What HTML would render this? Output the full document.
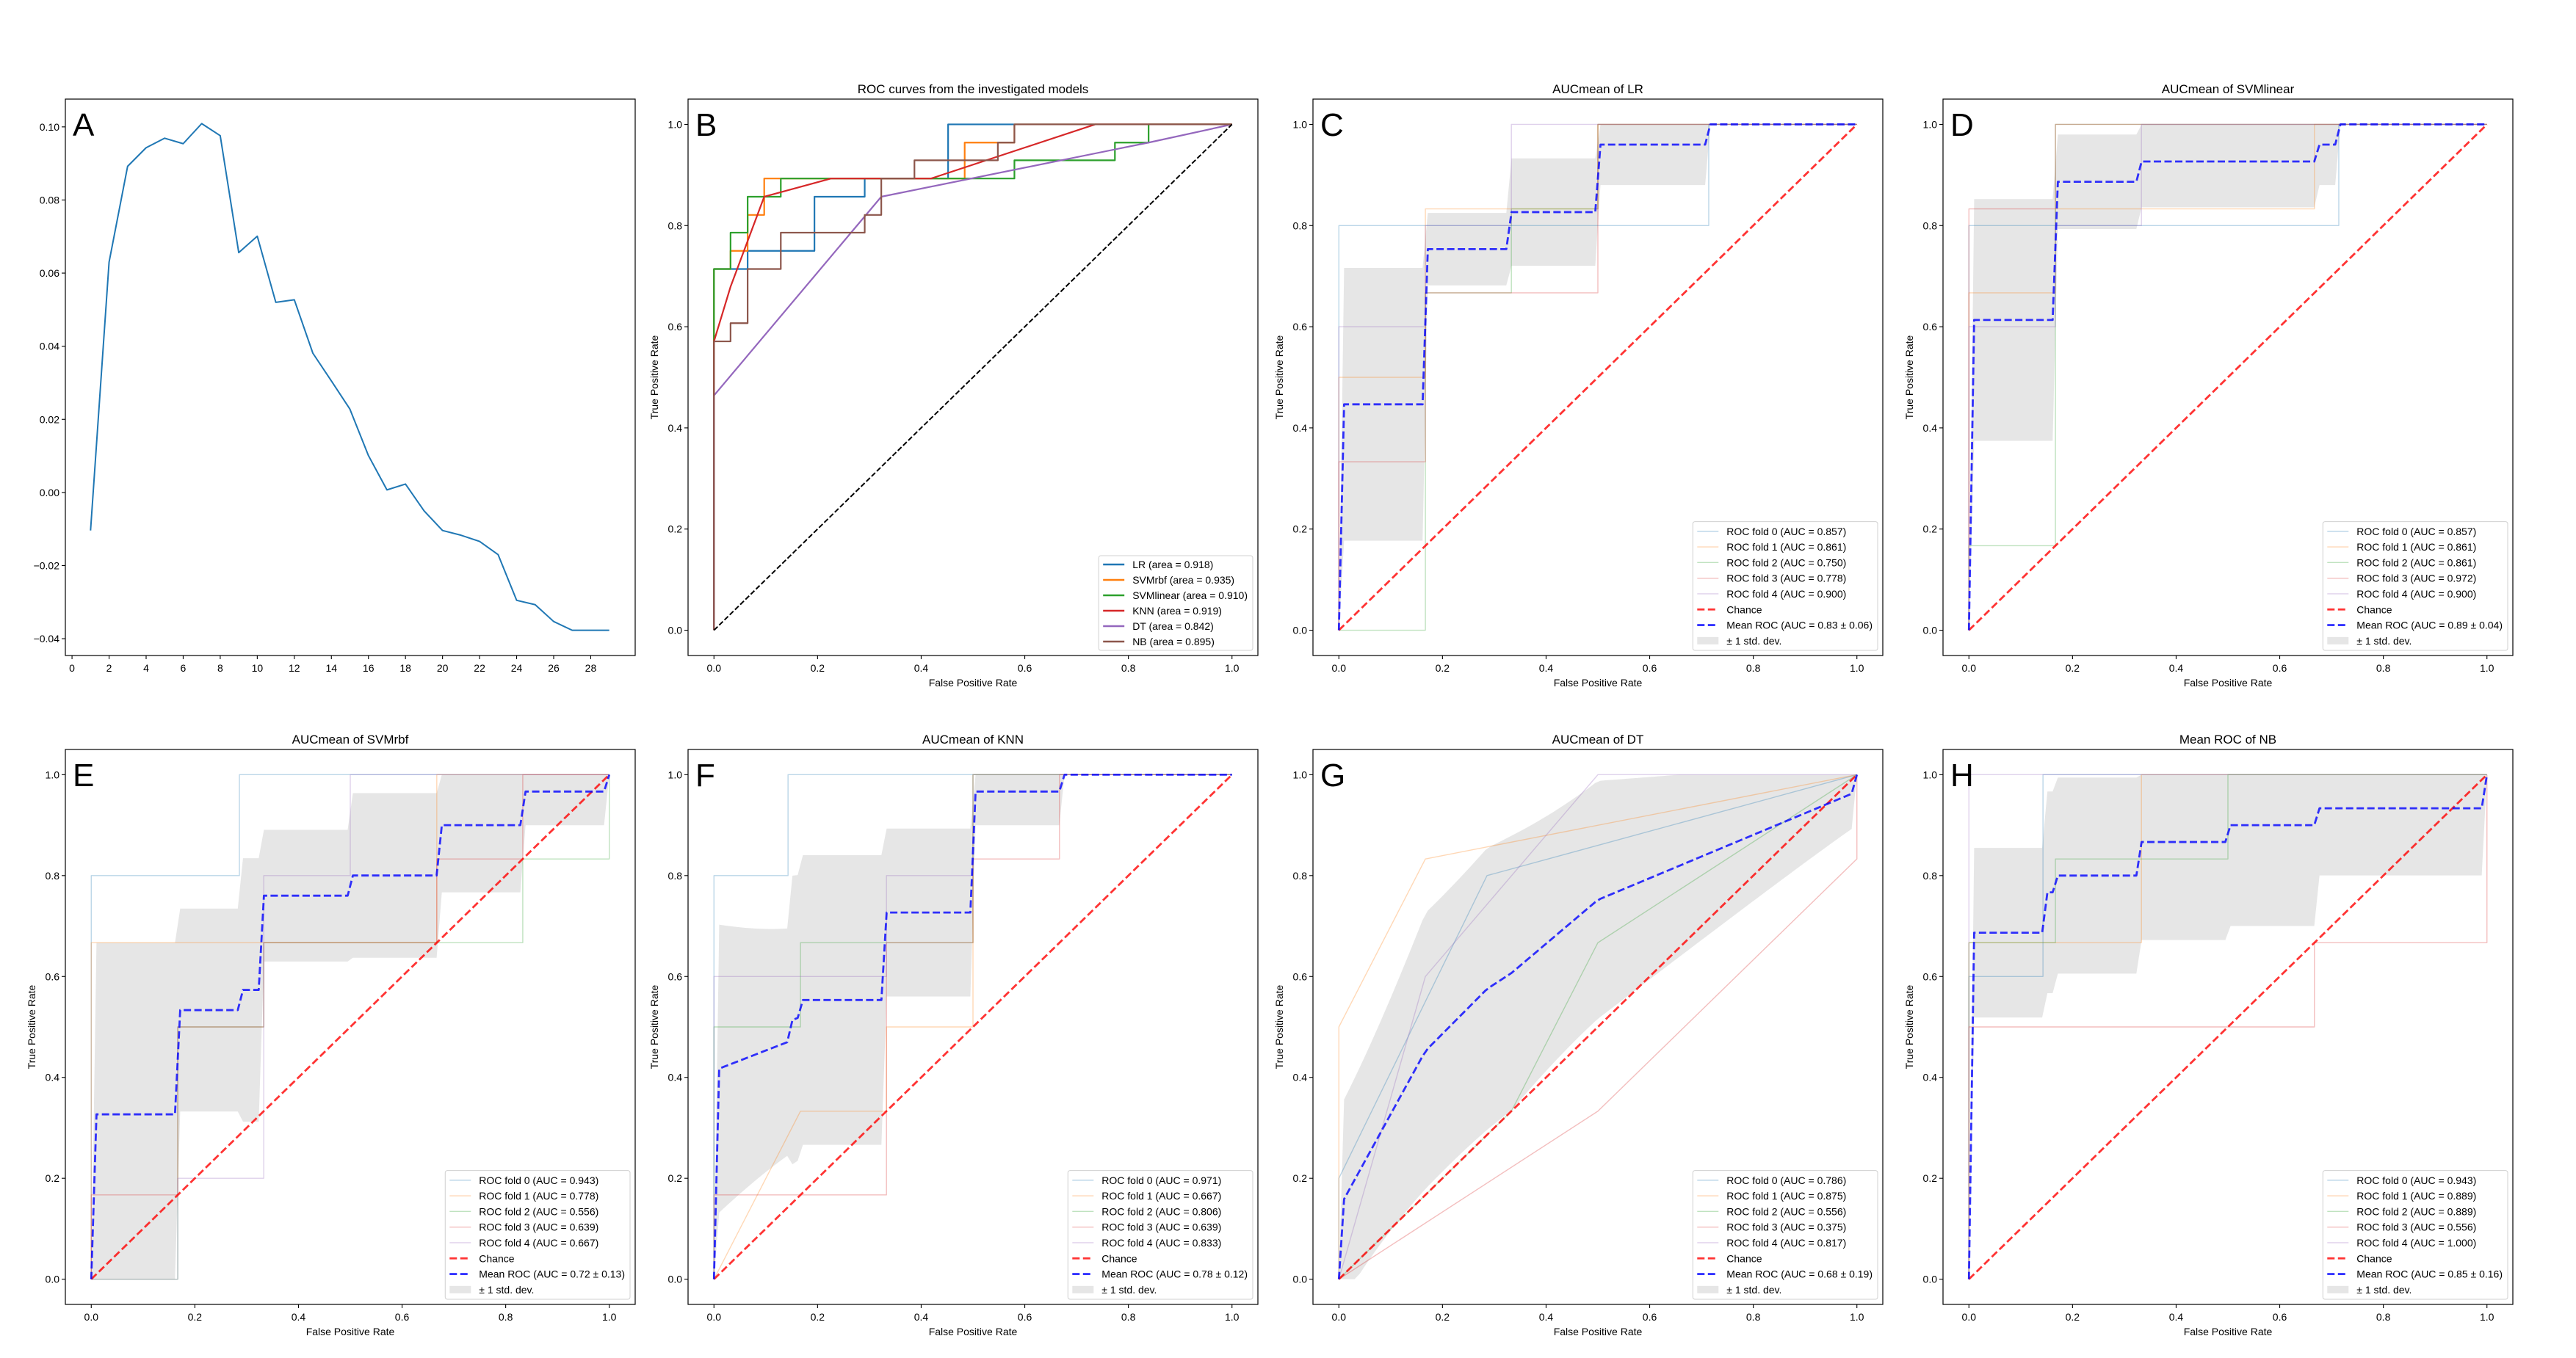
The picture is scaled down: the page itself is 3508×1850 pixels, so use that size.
<!DOCTYPE html>
<html><head><meta charset="utf-8"><style>
html,body{margin:0;padding:0;background:#fff;}
svg{display:block;font-family:"Liberation Sans","DejaVu Sans",sans-serif;}
</style></head><body>
<svg id="fig" xmlns="http://www.w3.org/2000/svg" width="3508" height="1850" viewBox="0 0 3508 1850">
<rect width="3508" height="1850" fill="#fff"/>
</svg>
<script>
// ---------- Panel A data ----------
const aX = [1,2,3,4,5,6,7,8,9,10,11,12,13,14,15,16,17,18,19,20,21,22,23,24,25,26,27,28,29];
const aY = [-0.0104,0.063,0.0892,0.0943,0.0969,0.0954,0.1009,0.0976,0.0656,0.0701,0.052,0.0527,0.0381,0.0305,0.0228,0.0101,0.0007,0.0023,-0.005,-0.0104,-0.0117,-0.0134,-0.017,-0.0295,-0.0307,-0.0353,-0.0377,-0.0377,-0.0377];
const aXTicks = [0,2,4,6,8,10,12,14,16,18,20,22,24,26,28];
const aYTicks = [-0.04,-0.02,0,0.02,0.04,0.06,0.08,0.10];
const aYTickLabels = ["\u22120.04","\u22120.02","0.00","0.02","0.04","0.06","0.08","0.10"];
// ---------- Panel B data ----------
const bNames = ["LR","SVMrbf","SVMlinear","KNN","DT","NB"];
const bLabels = ["LR (area = 0.918)","SVMrbf (area = 0.935)","SVMlinear (area = 0.910)","KNN (area = 0.919)","DT (area = 0.842)","NB (area = 0.895)"];
const bLR = [[0,0],[0,0.714],[0.065,0.714],[0.065,0.75],[0.194,0.75],[0.194,0.857],[0.291,0.857],[0.291,0.893],[0.452,0.893],[0.452,1],[1,1]];
const bSVMrbf = [[0,0],[0,0.714],[0.032,0.714],[0.032,0.75],[0.065,0.75],[0.065,0.821],[0.097,0.821],[0.097,0.893],[0.484,0.893],[0.484,0.964],[0.58,0.964],[0.58,1],[1,1]];
const bSVMlinear = [[0,0],[0,0.571],[0,0.714],[0.032,0.714],[0.032,0.786],[0.065,0.786],[0.065,0.857],[0.129,0.857],[0.129,0.893],[0.58,0.893],[0.58,0.929],[0.774,0.929],[0.774,0.964],[0.839,0.964],[0.839,1],[1,1]];
const bKNN = [[0,0],[0,0.571],[0.032,0.679],[0.097,0.857],[0.226,0.893],[0.419,0.893],[0.736,1],[1,1]];
const bDT = [[0,0],[0,0.464],[0.323,0.857],[0.839,0.964],[1,1]];
const bNB = [[0,0],[0,0.571],[0.032,0.571],[0.032,0.607],[0.065,0.607],[0.065,0.714],[0.129,0.714],[0.129,0.786],[0.291,0.786],[0.291,0.821],[0.323,0.821],[0.323,0.893],[0.387,0.893],[0.387,0.929],[0.548,0.929],[0.548,0.964],[0.58,0.964],[0.58,1],[1,1]];
const rocTicks = [0,0.2,0.4,0.6,0.8,1.0];
const rocTickLabels = ["0.0","0.2","0.4","0.6","0.8","1.0"];
// ---------- Fold data (C..H) ----------
const cFolds = [
 [[0,0],[0,0.8],[0.714,0.8],[0.714,1],[1,1]],
 [[0,0],[0,0.5],[0.167,0.5],[0.167,0.833],[0.5,0.833],[0.5,1],[1,1]],
 [[0,0],[0.167,0],[0.167,0.667],[0.333,0.667],[0.333,0.833],[0.5,0.833],[0.5,1],[1,1]],
 [[0,0],[0,0.333],[0.167,0.333],[0.167,0.667],[0.5,0.667],[0.5,1],[1,1]],
 [[0,0],[0,0.6],[0.167,0.6],[0.167,0.8],[0.333,0.8],[0.333,1],[1,1]]];
const cAUC = ["0.857","0.861","0.750","0.778","0.900"];
const dFolds = [
 [[0,0],[0,0.8],[0.714,0.8],[0.714,1],[1,1]],
 [[0,0],[0,0.667],[0.167,0.667],[0.167,0.833],[0.667,0.833],[0.667,1],[1,1]],
 [[0,0],[0,0.167],[0.167,0.167],[0.167,1],[1,1]],
 [[0,0],[0,0.833],[0.167,0.833],[0.167,1],[1,1]],
 [[0,0],[0,0.6],[0.167,0.6],[0.167,0.8],[0.333,0.8],[0.333,1],[1,1]]];
const dAUC = ["0.857","0.861","0.861","0.972","0.900"];
const eFolds = [
 [[0,0],[0,0.8],[0.286,0.8],[0.286,1],[1,1]],
 [[0,0],[0,0.667],[0.667,0.667],[0.667,1],[1,1]],
 [[0,0],[0.167,0],[0.167,0.5],[0.333,0.5],[0.333,0.667],[0.833,0.667],[0.833,0.833],[1,0.833],[1,1]],
 [[0,0],[0,0.167],[0.167,0.167],[0.167,0.5],[0.333,0.5],[0.333,0.667],[0.667,0.667],[0.667,0.833],[0.833,0.833],[0.833,1],[1,1]],
 [[0,0],[0.167,0],[0.167,0.2],[0.333,0.2],[0.333,0.8],[0.5,0.8],[0.5,1],[1,1]]];
const eAUC = ["0.943","0.778","0.556","0.639","0.667"];
const fFolds = [
 [[0,0],[0,0.8],[0.143,0.8],[0.143,1],[1,1]],
 [[0,0],[0.167,0.333],[0.333,0.333],[0.333,0.5],[0.5,0.5],[0.5,1],[1,1]],
 [[0,0],[0,0.5],[0.167,0.5],[0.167,0.667],[0.5,0.667],[0.5,1],[1,1]],
 [[0,0],[0,0.167],[0.333,0.167],[0.333,0.667],[0.5,0.667],[0.5,0.833],[0.667,0.833],[0.667,1],[1,1]],
 [[0,0],[0,0.6],[0.333,0.6],[0.333,0.8],[0.5,0.8],[0.5,1],[1,1]]];
const fAUC = ["0.971","0.667","0.806","0.639","0.833"];
const gFolds = [
 [[0,0],[0,0.2],[0.286,0.8],[1,1]],
 [[0,0],[0,0.5],[0.167,0.833],[1,1]],
 [[0,0],[0.333,0.333],[0.5,0.667],[1,1]],
 [[0,0],[0.5,0.333],[1,0.833],[1,1]],
 [[0,0],[0.167,0.6],[0.5,1],[1,1]]];
const gAUC = ["0.786","0.875","0.556","0.375","0.817"];
const hFolds = [
 [[0,0],[0,0.6],[0.143,0.6],[0.143,1],[1,1]],
 [[0,0],[0,0.667],[0.333,0.667],[0.333,1],[1,1]],
 [[0,0],[0,0.667],[0.167,0.667],[0.167,0.833],[0.5,0.833],[0.5,1],[1,1]],
 [[0,0],[0,0.5],[0.667,0.5],[0.667,0.667],[1,0.667],[1,1]],
 [[0,0],[0,1],[1,1]]];
const hAUC = ["0.943","0.889","0.889","0.556","1.000"];
const meanLabels = ["Mean ROC (AUC = 0.83 \u00b1 0.06)","Mean ROC (AUC = 0.89 \u00b1 0.04)","Mean ROC (AUC = 0.72 \u00b1 0.13)","Mean ROC (AUC = 0.78 \u00b1 0.12)","Mean ROC (AUC = 0.68 \u00b1 0.19)","Mean ROC (AUC = 0.85 \u00b1 0.16)"];

const NS='http://www.w3.org/2000/svg';
const svg=document.getElementById('fig');
const TAB=['#1f77b4','#ff7f0e','#2ca02c','#d62728','#9467bd','#8c564b'];
const W=776;
function el(tag,parent){const e=document.createElementNS(NS,tag);parent.appendChild(e);return e;}
function at(e,o){for(const k in o)e.setAttribute(k,o[k]);return e;}
function txt(parent,x,y,s,size,anchor){const t=el('text',parent);at(t,{x:x,y:y,'font-size':size,'text-anchor':anchor||'start',fill:'#000'});t.textContent=s;return t;}

function axes(name,L,T,H,xr,yr){
  const g=el('g',svg);
  
  
  return {g:g,L:L,T:T,H:H,X:v=>L+(v-xr[0])/(xr[1]-xr[0])*W,Y:v=>T+H-(v-yr[0])/(yr[1]-yr[0])*H};
}
function frame(ax){
  const r=el('rect',ax.g);
  
  
  at(r,{x:ax.L,y:ax.T,width:W,height:ax.H,fill:'none',stroke:'#000','stroke-width':1.2});
}
function ticks(ax,xv,xl,yv,yl){
  const g=el('g',ax.g);
  
  
  const b=ax.T+ax.H;
  xv.forEach((v,i)=>{const x=ax.X(v);const l=el('line',g);at(l,{x1:x,x2:x,y1:b,y2:b+5,stroke:'#000','stroke-width':1.1});
    const t=txt(g,x,b+22,xl[i],14,'middle');});
  const g2=el('g',ax.g);
  
  
  yv.forEach((v,i)=>{const y=ax.Y(v);const l=el('line',g2);at(l,{x1:ax.L-5,x2:ax.L,y1:y,y2:y,stroke:'#000','stroke-width':1.1});
    const t=txt(g2,ax.L-8,y+5,yl[i],14,'end');});
}
function labels(ax,title){
  if(title){const t=txt(ax.g,ax.L+W/2,ax.T-8,title,17,'middle');}
  const xl=txt(ax.g,ax.L+W/2,ax.T+ax.H+42,'False Positive Rate',14,'middle');
  
  
  const cx=ax.L-46,cy=ax.T+ax.H/2;
  const yl=txt(ax.g,cx,cy+5,'True Positive Rate',14,'middle');
  yl.setAttribute('transform','rotate(-90 '+cx+' '+cy+')');
  
  
}
function letter(ax,s){const t=txt(ax.g,ax.L+10,ax.T+50,s,44,'start');}
function pathD(ax,pts){return pts.map((p,i)=>(i?'L':'M')+ax.X(p[0]).toFixed(2)+' '+ax.Y(p[1]).toFixed(2)).join(' ');}
function line(ax,pts,stroke,w,op,dash,name){
  const p=el('path',ax.g);
  
  
  at(p,{d:pathD(ax,pts),fill:'none',stroke:stroke,'stroke-width':w,'stroke-opacity':op,'stroke-linejoin':'round'});
  if(dash)p.setAttribute('stroke-dasharray',dash);
  return p;
}
function interp(x,pts){
  if(x<pts[0][0])return pts[0][1];
  let j=-1;for(let i=0;i<pts.length;i++){if(pts[i][0]<=x)j=i;}
  if(j>=pts.length-1)return pts[pts.length-1][1];
  const a=pts[j],b=pts[j+1];if(b[0]===a[0])return b[1];
  return a[1]+(b[1]-a[1])*(x-a[0])/(b[0]-a[0]);
}
function legend(ax,items,rowH,pad){
  const g=el('g',ax.g);
  
  
  const box=el('rect',g);
  const texts=[];
  items.forEach((it,i)=>{const t=txt(g,0,0,it.label,14,'start');texts.push(t);});
  let mw=0;texts.forEach(t=>{mw=Math.max(mw,t.getComputedTextLength());});
  const bw=6+29+11+mw+7,bh=items.length*rowH+pad;
  const R=ax.L+W-7,B=ax.T+ax.H-7,Lx=R-bw,Ty=B-bh;
  at(box,{x:Lx,y:Ty,width:bw,height:bh,rx:3,fill:'#fff','fill-opacity':0.85,stroke:'#d0d0d0','stroke-width':1});
  items.forEach((it,i)=>{
    const cy=Ty+pad/2+rowH*(i+0.5);
    if(it.type==='patch'){const r=el('rect',g);at(r,{x:Lx+6,y:cy-5,width:29,height:10,fill:'#808080','fill-opacity':0.2});}
    else{const l=el('line',g);at(l,{x1:Lx+6,x2:Lx+35,y1:cy,y2:cy,stroke:it.color,'stroke-width':it.w,'stroke-opacity':it.op});if(it.dash)l.setAttribute('stroke-dasharray',it.dash);}
    at(texts[i],{x:Lx+46,y:cy+5});
  });
}

// ---------- Panel A ----------
(function(){
  const ax=axes('panel-a',89,135,758,[-0.36,30.4],[-0.0446,0.1076]);
  line(ax,aX.map((x,i)=>[x,aY[i]]),'#1f77b4',2,1,null,'importance-line');
  ticks(ax,aXTicks,aXTicks.map(String),aYTicks,aYTickLabels);
  frame(ax);letter(ax,'A');
})();
// ---------- Panel B ----------
(function(){
  const ax=axes('panel-b',937,135,758,[-0.05,1.05],[-0.05,1.05]);
  const series=[bLR,bSVMrbf,bSVMlinear,bKNN,bDT,bNB];
  series.forEach((s,i)=>line(ax,s,TAB[i],2.2,1,null,'roc-'+bNames[i].toLowerCase()));
  line(ax,[[0,0],[1,1]],'#000',2,1,'7 3','chance-line');
  ticks(ax,rocTicks,rocTickLabels,rocTicks,rocTickLabels);
  labels(ax,'ROC curves from the investigated models');
  frame(ax);letter(ax,'B');
  legend(ax,bLabels.map((l,i)=>({label:l,color:TAB[i],w:2.5,op:1})),21,3);
})();
// ---------- Panels C..H ----------
function rocPanel(name,L,T,H,folds,aucs,title,meanLabel,let){
  const ax=axes(name,L,T,H,[-0.05,1.05],[-0.05,1.05]);
  const N=100,mf=[],mean=[],up=[],lo=[];
  for(let k=0;k<N;k++){
    const x=k/(N-1);mf.push(x);
    const vals=folds.map(f=>k===0?0:interp(x,f));
    let m=vals.reduce((a,b)=>a+b,0)/vals.length;
    if(k===N-1)m=1;
    const sd=Math.sqrt(vals.reduce((a,b)=>a+(b-m)*(b-m),0)/vals.length);
    mean.push(m);up.push(Math.min(m+sd,1));lo.push(Math.max(m-sd,0));
  }
  const band=el('path',ax.g);
  
  
  const upP=mf.map((x,i)=>[x,up[i]]),loP=mf.map((x,i)=>[x,lo[i]]).reverse();
  at(band,{d:pathD(ax,upP.concat(loP))+' Z',fill:'#808080','fill-opacity':0.2,stroke:'none'});
  folds.forEach((f,i)=>line(ax,f,TAB[i],1.4,0.3,null,'roc-fold-'+i));
  line(ax,[[0,0],[1,1]],'#ff0000',2.8,0.8,'10 4.5','chance-line');
  line(ax,mf.map((x,i)=>[x,mean[i]]),'#0000ff',2.8,0.8,'10 4.5','mean-roc-line');
  ticks(ax,rocTicks,rocTickLabels,rocTicks,rocTickLabels);
  labels(ax,title);
  frame(ax);letter(ax,let);
  const items=aucs.map((a,i)=>({label:'ROC fold '+i+' (AUC = '+a+')',color:TAB[i],w:1.4,op:0.3}));
  items.push({label:'Chance',color:'#ff0000',w:2.8,op:0.8,dash:'10 4.5'});
  items.push({label:meanLabel,color:'#0000ff',w:2.8,op:0.8,dash:'10 4.5'});
  items.push({label:'\u00b1 1 std. dev.',type:'patch'});
  legend(ax,items,21.3,5);
}
rocPanel('panel-c',1788,135,758,cFolds,cAUC,'AUCmean of LR',meanLabels[0],'C');
rocPanel('panel-d',2646,135,758,dFolds,dAUC,'AUCmean of SVMlinear',meanLabels[1],'D');
rocPanel('panel-e',89,1021,756,eFolds,eAUC,'AUCmean of SVMrbf',meanLabels[2],'E');
rocPanel('panel-f',937,1021,756,fFolds,fAUC,'AUCmean of KNN',meanLabels[3],'F');
rocPanel('panel-g',1788,1021,756,gFolds,gAUC,'AUCmean of DT',meanLabels[4],'G');
rocPanel('panel-h',2646,1021,756,hFolds,hAUC,'Mean ROC of NB',meanLabels[5],'H');
</script>
</body></html>
